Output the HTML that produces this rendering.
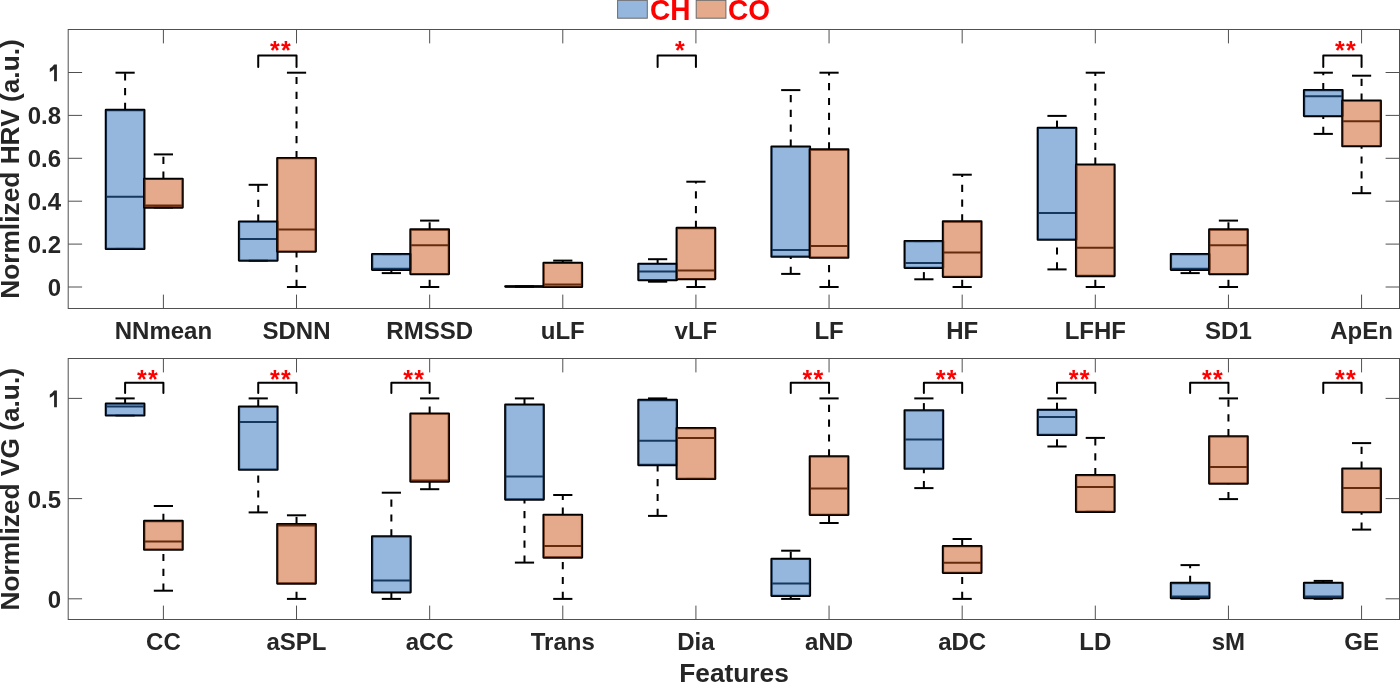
<!DOCTYPE html>
<html><head><meta charset="utf-8"><style>
html,body{margin:0;padding:0;background:#fff;overflow:hidden}
svg{display:block;will-change:transform}
text{font-family:"Liberation Sans",sans-serif;font-weight:bold}
.tk{font-size:24px;fill:#262626}
.yl{font-size:26.3px;fill:#262626}
.lg{font-size:28px;fill:#ff0000}
.st{font-size:25px;fill:#ff0000;letter-spacing:1.3px}
.ax{stroke:#505050;stroke-width:1;fill:none}
.ln{stroke:#000;stroke-width:2.0;fill:none}
.wh{stroke:#000;stroke-width:2.0;stroke-dasharray:7.2 7.6;fill:none}
.bx{stroke:#000;stroke-width:2.3;fill:none;stroke-linejoin:round}
.br{stroke:#000;stroke-width:2;fill:none;stroke-linejoin:round;stroke-linecap:round}
</style></head><body>
<svg width="1400" height="683" viewBox="0 0 1400 683">
<rect x="68.2" y="29.5" width="1331.3" height="279" fill="none" stroke="#505050" stroke-width="1"/>
<line x1="163.4" y1="308.5" x2="163.4" y2="294.6" class="ax"/>
<line x1="163.4" y1="29.5" x2="163.4" y2="43.4" class="ax"/>
<line x1="296.53" y1="308.5" x2="296.53" y2="294.6" class="ax"/>
<line x1="296.53" y1="29.5" x2="296.53" y2="43.4" class="ax"/>
<line x1="429.66" y1="308.5" x2="429.66" y2="294.6" class="ax"/>
<line x1="429.66" y1="29.5" x2="429.66" y2="43.4" class="ax"/>
<line x1="562.79" y1="308.5" x2="562.79" y2="294.6" class="ax"/>
<line x1="562.79" y1="29.5" x2="562.79" y2="43.4" class="ax"/>
<line x1="695.92" y1="308.5" x2="695.92" y2="294.6" class="ax"/>
<line x1="695.92" y1="29.5" x2="695.92" y2="43.4" class="ax"/>
<line x1="829.05" y1="308.5" x2="829.05" y2="294.6" class="ax"/>
<line x1="829.05" y1="29.5" x2="829.05" y2="43.4" class="ax"/>
<line x1="962.18" y1="308.5" x2="962.18" y2="294.6" class="ax"/>
<line x1="962.18" y1="29.5" x2="962.18" y2="43.4" class="ax"/>
<line x1="1095.31" y1="308.5" x2="1095.31" y2="294.6" class="ax"/>
<line x1="1095.31" y1="29.5" x2="1095.31" y2="43.4" class="ax"/>
<line x1="1228.44" y1="308.5" x2="1228.44" y2="294.6" class="ax"/>
<line x1="1228.44" y1="29.5" x2="1228.44" y2="43.4" class="ax"/>
<line x1="1361.57" y1="308.5" x2="1361.57" y2="294.6" class="ax"/>
<line x1="1361.57" y1="29.5" x2="1361.57" y2="43.4" class="ax"/>
<line x1="68.2" y1="287" x2="82.1" y2="287" class="ax"/>
<line x1="1399.5" y1="287" x2="1385.6" y2="287" class="ax"/>
<text x="61" y="296" class="tk" text-anchor="end">0</text>
<line x1="68.2" y1="244.1" x2="82.1" y2="244.1" class="ax"/>
<line x1="1399.5" y1="244.1" x2="1385.6" y2="244.1" class="ax"/>
<text x="61" y="253.1" class="tk" text-anchor="end">0.2</text>
<line x1="68.2" y1="201.2" x2="82.1" y2="201.2" class="ax"/>
<line x1="1399.5" y1="201.2" x2="1385.6" y2="201.2" class="ax"/>
<text x="61" y="210.2" class="tk" text-anchor="end">0.4</text>
<line x1="68.2" y1="158.3" x2="82.1" y2="158.3" class="ax"/>
<line x1="1399.5" y1="158.3" x2="1385.6" y2="158.3" class="ax"/>
<text x="61" y="167.3" class="tk" text-anchor="end">0.6</text>
<line x1="68.2" y1="115.4" x2="82.1" y2="115.4" class="ax"/>
<line x1="1399.5" y1="115.4" x2="1385.6" y2="115.4" class="ax"/>
<text x="61" y="124.4" class="tk" text-anchor="end">0.8</text>
<line x1="68.2" y1="72.5" x2="82.1" y2="72.5" class="ax"/>
<line x1="1399.5" y1="72.5" x2="1385.6" y2="72.5" class="ax"/>
<path transform="translate(0 0)" fill="#262626" d="M54.1 64.5H56.9V81.3H54.1V68.9Q52.4 70.8 49.8 71.9V68.5Q52.5 67.0 54.1 64.5Z"/>
<line x1="125.1" y1="110" x2="125.1" y2="72.7" class="wh"/>
<line x1="115.5" y1="72.7" x2="134.7" y2="72.7" class="ln"/>
<line x1="115.5" y1="248.9" x2="134.7" y2="248.9" class="ln"/>
<rect x="105.9" y="110" width="38.4" height="138.9" class="bx"/>
<line x1="105.9" y1="196.7" x2="144.3" y2="196.7" class="ln"/>
<rect x="106.25" y="110.35" width="37.7" height="138.2" fill="rgb(43,109,187)" fill-opacity="0.5"/>
<line x1="163.4" y1="178.8" x2="163.4" y2="154.4" class="wh"/>
<line x1="153.8" y1="154.4" x2="173" y2="154.4" class="ln"/>
<line x1="153.8" y1="207.5" x2="173" y2="207.5" class="ln"/>
<rect x="144.2" y="178.8" width="38.4" height="28.7" class="bx"/>
<line x1="144.2" y1="205.5" x2="182.6" y2="205.5" class="ln"/>
<rect x="144.55" y="179.15" width="37.7" height="28" fill="rgb(203,83,23)" fill-opacity="0.5"/>
<line x1="258.23" y1="221.7" x2="258.23" y2="184.8" class="wh"/>
<line x1="248.63" y1="184.8" x2="267.83" y2="184.8" class="ln"/>
<line x1="248.63" y1="260.6" x2="267.83" y2="260.6" class="ln"/>
<rect x="239.03" y="221.7" width="38.4" height="38.9" class="bx"/>
<line x1="239.03" y1="239.1" x2="277.43" y2="239.1" class="ln"/>
<rect x="239.38" y="222.05" width="37.7" height="38.2" fill="rgb(43,109,187)" fill-opacity="0.5"/>
<line x1="296.53" y1="158.1" x2="296.53" y2="72.7" class="wh"/>
<line x1="296.53" y1="287" x2="296.53" y2="251.6" class="wh"/>
<line x1="286.93" y1="72.7" x2="306.13" y2="72.7" class="ln"/>
<line x1="286.93" y1="287" x2="306.13" y2="287" class="ln"/>
<rect x="277.33" y="158.1" width="38.4" height="93.5" class="bx"/>
<line x1="277.33" y1="229.5" x2="315.73" y2="229.5" class="ln"/>
<rect x="277.68" y="158.45" width="37.7" height="92.8" fill="rgb(203,83,23)" fill-opacity="0.5"/>
<line x1="391.36" y1="273.1" x2="391.36" y2="269.8" class="wh"/>
<line x1="381.76" y1="254.1" x2="400.96" y2="254.1" class="ln"/>
<line x1="381.76" y1="273.1" x2="400.96" y2="273.1" class="ln"/>
<rect x="372.16" y="254.1" width="38.4" height="15.7" class="bx"/>
<line x1="372.16" y1="268.8" x2="410.56" y2="268.8" class="ln"/>
<rect x="372.51" y="254.45" width="37.7" height="15" fill="rgb(43,109,187)" fill-opacity="0.5"/>
<line x1="429.66" y1="229.5" x2="429.66" y2="220.6" class="wh"/>
<line x1="429.66" y1="287" x2="429.66" y2="274.1" class="wh"/>
<line x1="420.06" y1="220.6" x2="439.26" y2="220.6" class="ln"/>
<line x1="420.06" y1="287" x2="439.26" y2="287" class="ln"/>
<rect x="410.46" y="229.5" width="38.4" height="44.6" class="bx"/>
<line x1="410.46" y1="245.2" x2="448.86" y2="245.2" class="ln"/>
<rect x="410.81" y="229.85" width="37.7" height="43.9" fill="rgb(203,83,23)" fill-opacity="0.5"/>
<line x1="514.89" y1="286.5" x2="534.09" y2="286.5" class="ln"/>
<line x1="514.89" y1="286.5" x2="534.09" y2="286.5" class="ln"/>
<rect x="505.29" y="286.5" width="38.4" height="0.01" class="bx"/>
<line x1="505.29" y1="286.5" x2="543.69" y2="286.5" class="ln"/>
<rect x="505.64" y="286.85" width="37.7" height="0.01" fill="rgb(43,109,187)" fill-opacity="0.5"/>
<line x1="562.79" y1="262.9" x2="562.79" y2="260.6" class="wh"/>
<line x1="553.19" y1="260.6" x2="572.39" y2="260.6" class="ln"/>
<line x1="553.19" y1="286.9" x2="572.39" y2="286.9" class="ln"/>
<rect x="543.59" y="262.9" width="38.4" height="24" class="bx"/>
<line x1="543.59" y1="284.4" x2="581.99" y2="284.4" class="ln"/>
<rect x="543.94" y="263.25" width="37.7" height="23.3" fill="rgb(203,83,23)" fill-opacity="0.5"/>
<line x1="657.62" y1="263.9" x2="657.62" y2="259.2" class="wh"/>
<line x1="657.62" y1="281.7" x2="657.62" y2="280.1" class="wh"/>
<line x1="648.02" y1="259.2" x2="667.22" y2="259.2" class="ln"/>
<line x1="648.02" y1="281.7" x2="667.22" y2="281.7" class="ln"/>
<rect x="638.42" y="263.9" width="38.4" height="16.2" class="bx"/>
<line x1="638.42" y1="271.5" x2="676.82" y2="271.5" class="ln"/>
<rect x="638.77" y="264.25" width="37.7" height="15.5" fill="rgb(43,109,187)" fill-opacity="0.5"/>
<line x1="695.92" y1="228" x2="695.92" y2="181.7" class="wh"/>
<line x1="695.92" y1="287" x2="695.92" y2="279.1" class="wh"/>
<line x1="686.32" y1="181.7" x2="705.52" y2="181.7" class="ln"/>
<line x1="686.32" y1="287" x2="705.52" y2="287" class="ln"/>
<rect x="676.72" y="228" width="38.4" height="51.1" class="bx"/>
<line x1="676.72" y1="270.5" x2="715.12" y2="270.5" class="ln"/>
<rect x="677.07" y="228.35" width="37.7" height="50.4" fill="rgb(203,83,23)" fill-opacity="0.5"/>
<line x1="790.75" y1="146.6" x2="790.75" y2="90.1" class="wh"/>
<line x1="790.75" y1="273.9" x2="790.75" y2="256.7" class="wh"/>
<line x1="781.15" y1="90.1" x2="800.35" y2="90.1" class="ln"/>
<line x1="781.15" y1="273.9" x2="800.35" y2="273.9" class="ln"/>
<rect x="771.55" y="146.6" width="38.4" height="110.1" class="bx"/>
<line x1="771.55" y1="250" x2="809.95" y2="250" class="ln"/>
<rect x="771.9" y="146.95" width="37.7" height="109.4" fill="rgb(43,109,187)" fill-opacity="0.5"/>
<line x1="829.05" y1="149.5" x2="829.05" y2="72.7" class="wh"/>
<line x1="829.05" y1="287" x2="829.05" y2="257.7" class="wh"/>
<line x1="819.45" y1="72.7" x2="838.65" y2="72.7" class="ln"/>
<line x1="819.45" y1="287" x2="838.65" y2="287" class="ln"/>
<rect x="809.85" y="149.5" width="38.4" height="108.2" class="bx"/>
<line x1="809.85" y1="246.1" x2="848.25" y2="246.1" class="ln"/>
<rect x="810.2" y="149.85" width="37.7" height="107.5" fill="rgb(203,83,23)" fill-opacity="0.5"/>
<line x1="923.88" y1="279.3" x2="923.88" y2="267.8" class="wh"/>
<line x1="914.28" y1="241.1" x2="933.48" y2="241.1" class="ln"/>
<line x1="914.28" y1="279.3" x2="933.48" y2="279.3" class="ln"/>
<rect x="904.68" y="241.1" width="38.4" height="26.7" class="bx"/>
<line x1="904.68" y1="262.9" x2="943.08" y2="262.9" class="ln"/>
<rect x="905.03" y="241.45" width="37.7" height="26" fill="rgb(43,109,187)" fill-opacity="0.5"/>
<line x1="962.18" y1="221.5" x2="962.18" y2="174.7" class="wh"/>
<line x1="962.18" y1="287" x2="962.18" y2="276.8" class="wh"/>
<line x1="952.58" y1="174.7" x2="971.78" y2="174.7" class="ln"/>
<line x1="952.58" y1="287" x2="971.78" y2="287" class="ln"/>
<rect x="942.98" y="221.5" width="38.4" height="55.3" class="bx"/>
<line x1="942.98" y1="252.6" x2="981.38" y2="252.6" class="ln"/>
<rect x="943.33" y="221.85" width="37.7" height="54.6" fill="rgb(203,83,23)" fill-opacity="0.5"/>
<line x1="1057.01" y1="127.8" x2="1057.01" y2="115.9" class="wh"/>
<line x1="1057.01" y1="269.4" x2="1057.01" y2="239.7" class="wh"/>
<line x1="1047.41" y1="115.9" x2="1066.61" y2="115.9" class="ln"/>
<line x1="1047.41" y1="269.4" x2="1066.61" y2="269.4" class="ln"/>
<rect x="1037.81" y="127.8" width="38.4" height="111.9" class="bx"/>
<line x1="1037.81" y1="213.1" x2="1076.21" y2="213.1" class="ln"/>
<rect x="1038.16" y="128.15" width="37.7" height="111.2" fill="rgb(43,109,187)" fill-opacity="0.5"/>
<line x1="1095.31" y1="164.7" x2="1095.31" y2="72.7" class="wh"/>
<line x1="1095.31" y1="287" x2="1095.31" y2="276" class="wh"/>
<line x1="1085.71" y1="72.7" x2="1104.91" y2="72.7" class="ln"/>
<line x1="1085.71" y1="287" x2="1104.91" y2="287" class="ln"/>
<rect x="1076.11" y="164.7" width="38.4" height="111.3" class="bx"/>
<line x1="1076.11" y1="247.7" x2="1114.51" y2="247.7" class="ln"/>
<rect x="1076.46" y="165.05" width="37.7" height="110.6" fill="rgb(203,83,23)" fill-opacity="0.5"/>
<line x1="1190.14" y1="273.1" x2="1190.14" y2="269.8" class="wh"/>
<line x1="1180.54" y1="254.1" x2="1199.74" y2="254.1" class="ln"/>
<line x1="1180.54" y1="273.1" x2="1199.74" y2="273.1" class="ln"/>
<rect x="1170.94" y="254.1" width="38.4" height="15.7" class="bx"/>
<line x1="1170.94" y1="268.8" x2="1209.34" y2="268.8" class="ln"/>
<rect x="1171.29" y="254.45" width="37.7" height="15" fill="rgb(43,109,187)" fill-opacity="0.5"/>
<line x1="1228.44" y1="229.5" x2="1228.44" y2="220.6" class="wh"/>
<line x1="1228.44" y1="287" x2="1228.44" y2="274.1" class="wh"/>
<line x1="1218.84" y1="220.6" x2="1238.04" y2="220.6" class="ln"/>
<line x1="1218.84" y1="287" x2="1238.04" y2="287" class="ln"/>
<rect x="1209.24" y="229.5" width="38.4" height="44.6" class="bx"/>
<line x1="1209.24" y1="245.2" x2="1247.64" y2="245.2" class="ln"/>
<rect x="1209.59" y="229.85" width="37.7" height="43.9" fill="rgb(203,83,23)" fill-opacity="0.5"/>
<line x1="1323.27" y1="90.1" x2="1323.27" y2="72.7" class="wh"/>
<line x1="1323.27" y1="133.9" x2="1323.27" y2="116.1" class="wh"/>
<line x1="1313.67" y1="72.7" x2="1332.87" y2="72.7" class="ln"/>
<line x1="1313.67" y1="133.9" x2="1332.87" y2="133.9" class="ln"/>
<rect x="1304.07" y="90.1" width="38.4" height="26" class="bx"/>
<line x1="1304.07" y1="96.2" x2="1342.47" y2="96.2" class="ln"/>
<rect x="1304.42" y="90.45" width="37.7" height="25.3" fill="rgb(43,109,187)" fill-opacity="0.5"/>
<line x1="1361.57" y1="100.7" x2="1361.57" y2="75.7" class="wh"/>
<line x1="1361.57" y1="193.2" x2="1361.57" y2="146.2" class="wh"/>
<line x1="1351.97" y1="75.7" x2="1371.17" y2="75.7" class="ln"/>
<line x1="1351.97" y1="193.2" x2="1371.17" y2="193.2" class="ln"/>
<rect x="1342.37" y="100.7" width="38.4" height="45.5" class="bx"/>
<line x1="1342.37" y1="121.2" x2="1380.77" y2="121.2" class="ln"/>
<rect x="1342.72" y="101.05" width="37.7" height="44.8" fill="rgb(203,83,23)" fill-opacity="0.5"/>
<text x="163.4" y="338.7" class="tk" text-anchor="middle">NNmean</text>
<text x="296.53" y="338.7" class="tk" text-anchor="middle">SDNN</text>
<text x="429.66" y="338.7" class="tk" text-anchor="middle">RMSSD</text>
<text x="562.79" y="338.7" class="tk" text-anchor="middle">uLF</text>
<text x="695.92" y="338.7" class="tk" text-anchor="middle">vLF</text>
<text x="829.05" y="338.7" class="tk" text-anchor="middle">LF</text>
<text x="962.18" y="338.7" class="tk" text-anchor="middle">HF</text>
<text x="1095.31" y="338.7" class="tk" text-anchor="middle">LFHF</text>
<text x="1228.44" y="338.7" class="tk" text-anchor="middle">SD1</text>
<text x="1361.57" y="338.7" class="tk" text-anchor="middle">ApEn</text>
<rect x="68.2" y="358.5" width="1331.3" height="261" fill="none" stroke="#505050" stroke-width="1"/>
<line x1="163.4" y1="619.5" x2="163.4" y2="605.6" class="ax"/>
<line x1="163.4" y1="358.5" x2="163.4" y2="372.4" class="ax"/>
<line x1="296.53" y1="619.5" x2="296.53" y2="605.6" class="ax"/>
<line x1="296.53" y1="358.5" x2="296.53" y2="372.4" class="ax"/>
<line x1="429.66" y1="619.5" x2="429.66" y2="605.6" class="ax"/>
<line x1="429.66" y1="358.5" x2="429.66" y2="372.4" class="ax"/>
<line x1="562.79" y1="619.5" x2="562.79" y2="605.6" class="ax"/>
<line x1="562.79" y1="358.5" x2="562.79" y2="372.4" class="ax"/>
<line x1="695.92" y1="619.5" x2="695.92" y2="605.6" class="ax"/>
<line x1="695.92" y1="358.5" x2="695.92" y2="372.4" class="ax"/>
<line x1="829.05" y1="619.5" x2="829.05" y2="605.6" class="ax"/>
<line x1="829.05" y1="358.5" x2="829.05" y2="372.4" class="ax"/>
<line x1="962.18" y1="619.5" x2="962.18" y2="605.6" class="ax"/>
<line x1="962.18" y1="358.5" x2="962.18" y2="372.4" class="ax"/>
<line x1="1095.31" y1="619.5" x2="1095.31" y2="605.6" class="ax"/>
<line x1="1095.31" y1="358.5" x2="1095.31" y2="372.4" class="ax"/>
<line x1="1228.44" y1="619.5" x2="1228.44" y2="605.6" class="ax"/>
<line x1="1228.44" y1="358.5" x2="1228.44" y2="372.4" class="ax"/>
<line x1="1361.57" y1="619.5" x2="1361.57" y2="605.6" class="ax"/>
<line x1="1361.57" y1="358.5" x2="1361.57" y2="372.4" class="ax"/>
<line x1="68.2" y1="598.8" x2="82.1" y2="598.8" class="ax"/>
<line x1="1399.5" y1="598.8" x2="1385.6" y2="598.8" class="ax"/>
<text x="61" y="607.8" class="tk" text-anchor="end">0</text>
<line x1="68.2" y1="498.6" x2="82.1" y2="498.6" class="ax"/>
<line x1="1399.5" y1="498.6" x2="1385.6" y2="498.6" class="ax"/>
<text x="61" y="507.6" class="tk" text-anchor="end">0.5</text>
<line x1="68.2" y1="398.4" x2="82.1" y2="398.4" class="ax"/>
<line x1="1399.5" y1="398.4" x2="1385.6" y2="398.4" class="ax"/>
<path transform="translate(0 325.9)" fill="#262626" d="M54.1 64.5H56.9V81.3H54.1V68.9Q52.4 70.8 49.8 71.9V68.5Q52.5 67.0 54.1 64.5Z"/>
<line x1="125.1" y1="403.7" x2="125.1" y2="398.4" class="wh"/>
<line x1="115.5" y1="398.4" x2="134.7" y2="398.4" class="ln"/>
<line x1="115.5" y1="415.4" x2="134.7" y2="415.4" class="ln"/>
<rect x="105.9" y="403.7" width="38.4" height="11.7" class="bx"/>
<line x1="105.9" y1="406.6" x2="144.3" y2="406.6" class="ln"/>
<rect x="106.25" y="404.05" width="37.7" height="11" fill="rgb(43,109,187)" fill-opacity="0.5"/>
<line x1="163.4" y1="521" x2="163.4" y2="506" class="wh"/>
<line x1="163.4" y1="590.7" x2="163.4" y2="549.7" class="wh"/>
<line x1="153.8" y1="506" x2="173" y2="506" class="ln"/>
<line x1="153.8" y1="590.7" x2="173" y2="590.7" class="ln"/>
<rect x="144.2" y="521" width="38.4" height="28.7" class="bx"/>
<line x1="144.2" y1="541.5" x2="182.6" y2="541.5" class="ln"/>
<rect x="144.55" y="521.35" width="37.7" height="28" fill="rgb(203,83,23)" fill-opacity="0.5"/>
<line x1="258.23" y1="406.6" x2="258.23" y2="398.4" class="wh"/>
<line x1="258.23" y1="512.4" x2="258.23" y2="469.7" class="wh"/>
<line x1="248.63" y1="398.4" x2="267.83" y2="398.4" class="ln"/>
<line x1="248.63" y1="512.4" x2="267.83" y2="512.4" class="ln"/>
<rect x="239.03" y="406.6" width="38.4" height="63.1" class="bx"/>
<line x1="239.03" y1="421.9" x2="277.43" y2="421.9" class="ln"/>
<rect x="239.38" y="406.95" width="37.7" height="62.4" fill="rgb(43,109,187)" fill-opacity="0.5"/>
<line x1="296.53" y1="524.1" x2="296.53" y2="515.3" class="wh"/>
<line x1="296.53" y1="598.9" x2="296.53" y2="583.5" class="wh"/>
<line x1="286.93" y1="515.3" x2="306.13" y2="515.3" class="ln"/>
<line x1="286.93" y1="598.9" x2="306.13" y2="598.9" class="ln"/>
<rect x="277.33" y="524.1" width="38.4" height="59.4" class="bx"/>
<line x1="277.33" y1="525.5" x2="315.73" y2="525.5" class="ln"/>
<rect x="277.68" y="524.45" width="37.7" height="58.7" fill="rgb(203,83,23)" fill-opacity="0.5"/>
<line x1="391.36" y1="536.4" x2="391.36" y2="492.7" class="wh"/>
<line x1="391.36" y1="598.9" x2="391.36" y2="592.3" class="wh"/>
<line x1="381.76" y1="492.7" x2="400.96" y2="492.7" class="ln"/>
<line x1="381.76" y1="598.9" x2="400.96" y2="598.9" class="ln"/>
<rect x="372.16" y="536.4" width="38.4" height="55.9" class="bx"/>
<line x1="372.16" y1="580.4" x2="410.56" y2="580.4" class="ln"/>
<rect x="372.51" y="536.75" width="37.7" height="55.2" fill="rgb(43,109,187)" fill-opacity="0.5"/>
<line x1="429.66" y1="413.7" x2="429.66" y2="398.4" class="wh"/>
<line x1="429.66" y1="489.2" x2="429.66" y2="481.6" class="wh"/>
<line x1="420.06" y1="398.4" x2="439.26" y2="398.4" class="ln"/>
<line x1="420.06" y1="489.2" x2="439.26" y2="489.2" class="ln"/>
<rect x="410.46" y="413.7" width="38.4" height="67.9" class="bx"/>
<line x1="410.46" y1="480.6" x2="448.86" y2="480.6" class="ln"/>
<rect x="410.81" y="414.05" width="37.7" height="67.2" fill="rgb(203,83,23)" fill-opacity="0.5"/>
<line x1="524.49" y1="404.7" x2="524.49" y2="398.4" class="wh"/>
<line x1="524.49" y1="562.6" x2="524.49" y2="499.5" class="wh"/>
<line x1="514.89" y1="398.4" x2="534.09" y2="398.4" class="ln"/>
<line x1="514.89" y1="562.6" x2="534.09" y2="562.6" class="ln"/>
<rect x="505.29" y="404.7" width="38.4" height="94.8" class="bx"/>
<line x1="505.29" y1="476.5" x2="543.69" y2="476.5" class="ln"/>
<rect x="505.64" y="405.05" width="37.7" height="94.1" fill="rgb(43,109,187)" fill-opacity="0.5"/>
<line x1="562.79" y1="514.8" x2="562.79" y2="495" class="wh"/>
<line x1="562.79" y1="598.9" x2="562.79" y2="557.5" class="wh"/>
<line x1="553.19" y1="495" x2="572.39" y2="495" class="ln"/>
<line x1="553.19" y1="598.9" x2="572.39" y2="598.9" class="ln"/>
<rect x="543.59" y="514.8" width="38.4" height="42.7" class="bx"/>
<line x1="543.59" y1="546" x2="581.99" y2="546" class="ln"/>
<rect x="543.94" y="515.15" width="37.7" height="42" fill="rgb(203,83,23)" fill-opacity="0.5"/>
<line x1="657.62" y1="400" x2="657.62" y2="398.4" class="wh"/>
<line x1="657.62" y1="515.9" x2="657.62" y2="465" class="wh"/>
<line x1="648.02" y1="398.4" x2="667.22" y2="398.4" class="ln"/>
<line x1="648.02" y1="515.9" x2="667.22" y2="515.9" class="ln"/>
<rect x="638.42" y="400" width="38.4" height="65" class="bx"/>
<line x1="638.42" y1="440.8" x2="676.82" y2="440.8" class="ln"/>
<rect x="638.77" y="400.35" width="37.7" height="64.3" fill="rgb(43,109,187)" fill-opacity="0.5"/>
<line x1="686.32" y1="428.1" x2="705.52" y2="428.1" class="ln"/>
<line x1="686.32" y1="478.9" x2="705.52" y2="478.9" class="ln"/>
<rect x="676.72" y="428.1" width="38.4" height="50.8" class="bx"/>
<line x1="676.72" y1="437.9" x2="715.12" y2="437.9" class="ln"/>
<rect x="677.07" y="428.45" width="37.7" height="50.1" fill="rgb(203,83,23)" fill-opacity="0.5"/>
<line x1="790.75" y1="558.9" x2="790.75" y2="550.7" class="wh"/>
<line x1="790.75" y1="598.9" x2="790.75" y2="595.8" class="wh"/>
<line x1="781.15" y1="550.7" x2="800.35" y2="550.7" class="ln"/>
<line x1="781.15" y1="598.9" x2="800.35" y2="598.9" class="ln"/>
<rect x="771.55" y="558.9" width="38.4" height="36.9" class="bx"/>
<line x1="771.55" y1="583.5" x2="809.95" y2="583.5" class="ln"/>
<rect x="771.9" y="559.25" width="37.7" height="36.2" fill="rgb(43,109,187)" fill-opacity="0.5"/>
<line x1="829.05" y1="456.4" x2="829.05" y2="398.4" class="wh"/>
<line x1="829.05" y1="523" x2="829.05" y2="514.8" class="wh"/>
<line x1="819.45" y1="398.4" x2="838.65" y2="398.4" class="ln"/>
<line x1="819.45" y1="523" x2="838.65" y2="523" class="ln"/>
<rect x="809.85" y="456.4" width="38.4" height="58.4" class="bx"/>
<line x1="809.85" y1="488.6" x2="848.25" y2="488.6" class="ln"/>
<rect x="810.2" y="456.75" width="37.7" height="57.7" fill="rgb(203,83,23)" fill-opacity="0.5"/>
<line x1="923.88" y1="410.3" x2="923.88" y2="398.4" class="wh"/>
<line x1="923.88" y1="488.1" x2="923.88" y2="468.7" class="wh"/>
<line x1="914.28" y1="398.4" x2="933.48" y2="398.4" class="ln"/>
<line x1="914.28" y1="488.1" x2="933.48" y2="488.1" class="ln"/>
<rect x="904.68" y="410.3" width="38.4" height="58.4" class="bx"/>
<line x1="904.68" y1="439.6" x2="943.08" y2="439.6" class="ln"/>
<rect x="905.03" y="410.65" width="37.7" height="57.7" fill="rgb(43,109,187)" fill-opacity="0.5"/>
<line x1="962.18" y1="546.2" x2="962.18" y2="539" class="wh"/>
<line x1="962.18" y1="598.9" x2="962.18" y2="572.8" class="wh"/>
<line x1="952.58" y1="539" x2="971.78" y2="539" class="ln"/>
<line x1="952.58" y1="598.9" x2="971.78" y2="598.9" class="ln"/>
<rect x="942.98" y="546.2" width="38.4" height="26.6" class="bx"/>
<line x1="942.98" y1="562.8" x2="981.38" y2="562.8" class="ln"/>
<rect x="943.33" y="546.55" width="37.7" height="25.9" fill="rgb(203,83,23)" fill-opacity="0.5"/>
<line x1="1057.01" y1="409.9" x2="1057.01" y2="398.4" class="wh"/>
<line x1="1057.01" y1="446.5" x2="1057.01" y2="434.9" class="wh"/>
<line x1="1047.41" y1="398.4" x2="1066.61" y2="398.4" class="ln"/>
<line x1="1047.41" y1="446.5" x2="1066.61" y2="446.5" class="ln"/>
<rect x="1037.81" y="409.9" width="38.4" height="25" class="bx"/>
<line x1="1037.81" y1="417" x2="1076.21" y2="417" class="ln"/>
<rect x="1038.16" y="410.25" width="37.7" height="24.3" fill="rgb(43,109,187)" fill-opacity="0.5"/>
<line x1="1095.31" y1="475.2" x2="1095.31" y2="437.9" class="wh"/>
<line x1="1085.71" y1="437.9" x2="1104.91" y2="437.9" class="ln"/>
<line x1="1085.71" y1="511.8" x2="1104.91" y2="511.8" class="ln"/>
<rect x="1076.11" y="475.2" width="38.4" height="36.6" class="bx"/>
<line x1="1076.11" y1="487.1" x2="1114.51" y2="487.1" class="ln"/>
<rect x="1076.46" y="475.55" width="37.7" height="35.9" fill="rgb(203,83,23)" fill-opacity="0.5"/>
<line x1="1190.14" y1="583" x2="1190.14" y2="565.1" class="wh"/>
<line x1="1190.14" y1="598.9" x2="1190.14" y2="598" class="wh"/>
<line x1="1180.54" y1="565.1" x2="1199.74" y2="565.1" class="ln"/>
<line x1="1180.54" y1="598.9" x2="1199.74" y2="598.9" class="ln"/>
<rect x="1170.94" y="583" width="38.4" height="15" class="bx"/>
<line x1="1170.94" y1="596.5" x2="1209.34" y2="596.5" class="ln"/>
<rect x="1171.29" y="583.35" width="37.7" height="14.3" fill="rgb(43,109,187)" fill-opacity="0.5"/>
<line x1="1228.44" y1="436.3" x2="1228.44" y2="398.4" class="wh"/>
<line x1="1228.44" y1="499.1" x2="1228.44" y2="483.6" class="wh"/>
<line x1="1218.84" y1="398.4" x2="1238.04" y2="398.4" class="ln"/>
<line x1="1218.84" y1="499.1" x2="1238.04" y2="499.1" class="ln"/>
<rect x="1209.24" y="436.3" width="38.4" height="47.3" class="bx"/>
<line x1="1209.24" y1="467" x2="1247.64" y2="467" class="ln"/>
<rect x="1209.59" y="436.65" width="37.7" height="46.6" fill="rgb(203,83,23)" fill-opacity="0.5"/>
<line x1="1323.27" y1="582.9" x2="1323.27" y2="580.9" class="wh"/>
<line x1="1323.27" y1="598.8" x2="1323.27" y2="598.1" class="wh"/>
<line x1="1313.67" y1="580.9" x2="1332.87" y2="580.9" class="ln"/>
<line x1="1313.67" y1="598.8" x2="1332.87" y2="598.8" class="ln"/>
<rect x="1304.07" y="582.9" width="38.4" height="15.2" class="bx"/>
<line x1="1304.07" y1="596.6" x2="1342.47" y2="596.6" class="ln"/>
<rect x="1304.42" y="583.25" width="37.7" height="14.5" fill="rgb(43,109,187)" fill-opacity="0.5"/>
<line x1="1361.57" y1="468.7" x2="1361.57" y2="443.1" class="wh"/>
<line x1="1361.57" y1="529.6" x2="1361.57" y2="512.2" class="wh"/>
<line x1="1351.97" y1="443.1" x2="1371.17" y2="443.1" class="ln"/>
<line x1="1351.97" y1="529.6" x2="1371.17" y2="529.6" class="ln"/>
<rect x="1342.37" y="468.7" width="38.4" height="43.5" class="bx"/>
<line x1="1342.37" y1="488" x2="1380.77" y2="488" class="ln"/>
<rect x="1342.72" y="469.05" width="37.7" height="42.8" fill="rgb(203,83,23)" fill-opacity="0.5"/>
<text x="163.4" y="649.7" class="tk" text-anchor="middle">CC</text>
<text x="296.53" y="649.7" class="tk" text-anchor="middle">aSPL</text>
<text x="429.66" y="649.7" class="tk" text-anchor="middle">aCC</text>
<text x="562.79" y="649.7" class="tk" text-anchor="middle">Trans</text>
<text x="695.92" y="649.7" class="tk" text-anchor="middle">Dia</text>
<text x="829.05" y="649.7" class="tk" text-anchor="middle">aND</text>
<text x="962.18" y="649.7" class="tk" text-anchor="middle">aDC</text>
<text x="1095.31" y="649.7" class="tk" text-anchor="middle">LD</text>
<text x="1228.44" y="649.7" class="tk" text-anchor="middle">sM</text>
<text x="1361.57" y="649.7" class="tk" text-anchor="middle">GE</text>
<path d="M258.23 67V55.4H296.53V67" class="br"/><text x="281.08" y="59.2" class="st" text-anchor="middle">**</text>
<path d="M657.62 67V55.4H695.92V67" class="br"/><text x="680.47" y="59.2" class="st" text-anchor="middle">*</text>
<path d="M1323.27 67V55.4H1361.57V67" class="br"/><text x="1346.12" y="59.2" class="st" text-anchor="middle">**</text>
<path d="M125.1 393V382.7H163.4V393" class="br"/><text x="147.95" y="387.5" class="st" text-anchor="middle">**</text>
<path d="M258.23 393V382.7H296.53V393" class="br"/><text x="281.08" y="387.5" class="st" text-anchor="middle">**</text>
<path d="M391.36 393V382.7H429.66V393" class="br"/><text x="414.21" y="387.5" class="st" text-anchor="middle">**</text>
<path d="M790.75 393V382.7H829.05V393" class="br"/><text x="813.6" y="387.5" class="st" text-anchor="middle">**</text>
<path d="M923.88 393V382.7H962.18V393" class="br"/><text x="946.73" y="387.5" class="st" text-anchor="middle">**</text>
<path d="M1057.01 393V382.7H1095.31V393" class="br"/><text x="1079.86" y="387.5" class="st" text-anchor="middle">**</text>
<path d="M1190.14 393V382.7H1228.44V393" class="br"/><text x="1212.99" y="387.5" class="st" text-anchor="middle">**</text>
<path d="M1323.27 393V382.7H1361.57V393" class="br"/><text x="1346.12" y="387.5" class="st" text-anchor="middle">**</text>
<text transform="translate(18.6 169) rotate(-90)" class="yl" text-anchor="middle">Normlized HRV (a.u.)</text>
<text transform="translate(18.6 489.3) rotate(-90)" class="yl" text-anchor="middle">Normlized VG (a.u.)</text>
<text x="734" y="681.8" class="yl" text-anchor="middle">Features</text>
<rect x="617.6" y="0.3" width="29.7" height="17.9" fill="#95b6dd" stroke="#6a6a6a" stroke-width="1"/>
<text transform="translate(650 19.7) scale(1 1.05)" class="lg">CH</text>
<rect x="696.2" y="0.3" width="29.7" height="17.9" fill="#e5a98b" stroke="#6a6a6a" stroke-width="1"/>
<text transform="translate(728 19.7) scale(1 1.05)" class="lg">CO</text>
</svg>
</body></html>
